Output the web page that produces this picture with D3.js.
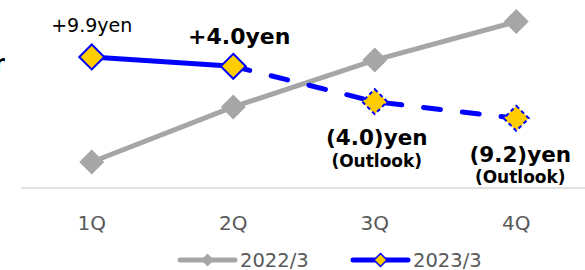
<!DOCTYPE html>
<html>
<head>
<meta charset="utf-8">
<script src="https://cdn.jsdelivr.net/npm/d3@7/dist/d3.min.js"></script>
<style>
  html, body { margin: 0; padding: 0; background: #fff; }
  svg { display: block; font-family: "DejaVu Sans", "Noto Sans", sans-serif; }
</style>
</head>
<body>
<svg id="chart" width="585" height="270"></svg>
<script>
// ---- data ----
const quarters = ["1Q", "2Q", "3Q", "4Q"];
const series2022 = [2.5, 7.8, 12.3, 16.0];   // 2022/3 (yen, relative level)
const series2023 = [12.6, 11.7, 8.3, 6.7];   // 2023/3 (3Q, 4Q = outlook)
const seriesNames = ["2022/3", "2023/3"];
const diffLabels = ["+9.9yen", "+4.0yen", "(4.0)yen", "(9.2)yen"];
const outlookLabel = "(Outlook)";
const actualCount = 2; // first two quarters of 2023/3 are actual

// ---- layout ----
const svg = d3.select("#chart");
const x = d3.scaleBand().domain(quarters).range([21, 587]);
const cx = q => x(q) + x.bandwidth() / 2;
const y = d3.scaleLinear().domain([0, 18]).range([188, 188 - 18 * 10.4]);

const gray = "#a6a6a6", blue = "#0000ff", gold = "#ffcc00";

// clipped title fragment at far left (as in the reference)
svg.append("text").attr("x", -6).attr("y", 70)
  .attr("font-size", 22).attr("font-weight", "bold").attr("fill", "#000").text("r");

// axis (baseline + tick labels)
const axis = d3.axisBottom(x).tickSize(0).tickPadding(28);
const gAxis = svg.append("g").attr("transform", "translate(0,188)").call(axis);
gAxis.select(".domain").attr("stroke", "#d9d9d9").attr("stroke-width", 1.5)
  .attr("d", "M21,0H585");
gAxis.selectAll(".tick text").attr("font-size", 20).attr("fill", "#595959")
  .attr("font-family", "DejaVu Sans, sans-serif");

function diamondPath(r) {
  return `M0,${-r}L${r},0L0,${r}L${-r},0Z`;
}

// 2022/3 gray line
const line22 = d3.line().x((d, i) => cx(quarters[i])).y(d => y(d));
svg.append("path").datum(series2022).attr("d", line22)
  .attr("fill", "none").attr("stroke", gray).attr("stroke-width", 5);
svg.selectAll(".m22").data(series2022).enter().append("path")
  .attr("transform", (d, i) => `translate(${cx(quarters[i])},${y(d)})`)
  .attr("d", diamondPath(12.5)).attr("fill", gray);

// 2023/3 blue line: solid for actual, dashed for outlook
const lineOffset = d3.line().x(d => cx(quarters[d.i])).y(d => y(d.v));
const pts = series2023.map((v, i) => ({ v, i }));
svg.append("path").datum(pts.slice(0, actualCount)).attr("d", lineOffset)
  .attr("fill", "none").attr("stroke", blue).attr("stroke-width", 5);
svg.append("path").datum(pts.slice(actualCount - 1)).attr("d", lineOffset)
  .attr("fill", "none").attr("stroke", blue).attr("stroke-width", 5)
  .attr("stroke-linecap", "round").attr("stroke-dasharray", "17,22");
svg.selectAll(".m23").data(pts).enter().append("path")
  .attr("transform", d => `translate(${cx(quarters[d.i])},${y(d.v)})`)
  .attr("d", diamondPath(12.5)).attr("fill", gold)
  .attr("stroke", blue).attr("stroke-width", 2)
  .attr("stroke-dasharray", d => d.i < actualCount ? null : "4,3");

// data labels
const lbl = svg.append("g").attr("text-anchor", "middle").attr("fill", "#000");
lbl.append("text").attr("x", cx(quarters[0])).attr("y", 32)
  .attr("font-size", 19).text(diffLabels[0]);
lbl.append("text").attr("x", cx(quarters[1]) + 6).attr("y", 44)
  .attr("font-size", 22).attr("font-weight", "bold").text(diffLabels[1]);
lbl.append("text").attr("x", cx(quarters[2]) + 2).attr("y", 145)
  .attr("font-size", 21.5).attr("font-weight", "bold").text(diffLabels[2]);
lbl.append("text").attr("x", cx(quarters[2]) + 2).attr("y", 167)
  .attr("font-size", 17).attr("font-weight", "bold").text(outlookLabel);
lbl.append("text").attr("x", cx(quarters[3]) + 4).attr("y", 162)
  .attr("font-size", 21.5).attr("font-weight", "bold").text(diffLabels[3]);
lbl.append("text").attr("x", cx(quarters[3]) + 4).attr("y", 183)
  .attr("font-size", 17).attr("font-weight", "bold").text(outlookLabel);

// legend
const leg = svg.append("g");
const legItems = [
  { name: seriesNames[0], x0: 180, color: gray, fill: gray, stroke: null },
  { name: seriesNames[1], x0: 353, color: blue, fill: gold, stroke: blue }
];
legItems.forEach(it => {
  const g = leg.append("g").attr("transform", `translate(${it.x0},260)`);
  g.append("line").attr("x1", 0).attr("x2", 55).attr("stroke", it.color)
    .attr("stroke-width", 5).attr("stroke-linecap", "round");
  g.append("path").attr("transform", "translate(27.5,0)").attr("d", diamondPath(6.5))
    .attr("fill", it.fill).attr("stroke", it.stroke).attr("stroke-width", 1.5);
  g.append("text").attr("x", 60).attr("y", 6.5).attr("font-size", 19.5)
    .attr("fill", "#595959").text(it.name);
});
</script>
</body>
</html>
